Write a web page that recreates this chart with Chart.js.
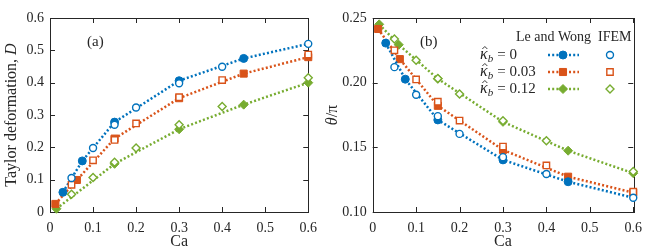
<!DOCTYPE html>
<html>
<head>
<meta charset="utf-8">
<script src="https://cdn.jsdelivr.net/npm/chart.js@4.4.1/dist/chart.umd.min.js"></script>
<style>
  body { margin: 0; background: #fff; }
  .panel { position: absolute; top: 0; width: 325px; height: 250px; }
</style>
</head>
<body>
<div class="panel" style="left:0"><canvas id="chartA" width="325" height="250"></canvas></div>
<div class="panel" style="left:325px"><canvas id="chartB" width="325" height="250"></canvas></div>
<script>
// --- data ---
// IFEM (open markers), same Ca for every bending modulus
const caIFEM = [0.05, 0.1, 0.15, 0.2, 0.3, 0.4, 0.6];
const dIFEM0 = [0.105, 0.198, 0.27, 0.323, 0.398, 0.449, 0.52];
const dIFEM03 = [0.084, 0.16, 0.223, 0.274, 0.355, 0.408, 0.487];
const dIFEM12 = [0.055, 0.107, 0.154, 0.198, 0.27, 0.326, 0.415];
const thIFEM0 = [0.212, 0.1906, 0.1741, 0.1604, 0.1424, 0.1294, 0.111];
const thIFEM03 = [0.225, 0.2025, 0.1853, 0.1707, 0.1506, 0.136, 0.1157];
const thIFEM12 = [0.2337, 0.2173, 0.2033, 0.1913, 0.1705, 0.1551, 0.1313];

// Le and Wong (filled markers + dotted line)
const caLW0 = [0.03, 0.075, 0.15, 0.3, 0.45, 0.6];
const dLW0 = [0.061, 0.158, 0.278, 0.406, 0.475, 0.52];
const thLW0 = [0.2306, 0.2027, 0.1712, 0.1403, 0.1234, 0.111];
const caLW03 = [0.0125, 0.0625, 0.15, 0.3, 0.45, 0.6];
const dLW03 = [0.025, 0.099, 0.227, 0.352, 0.428, 0.479];
const thLW03 = [0.2415, 0.2182, 0.1821, 0.148, 0.1273, 0.115];
const caLWa12 = [0.015, 0.15, 0.3, 0.45, 0.6];
const dLW12 = [0.01, 0.149, 0.256, 0.332, 0.4];
const caLWb12 = [0.015, 0.06, 0.15, 0.3, 0.45, 0.6];
const thLW12 = [0.2451, 0.2293, 0.203, 0.1697, 0.1474, 0.13];

const kappaLabels = ['0', '0.03', '0.12'];

const BLUE = '#0072BD', ORANGE = '#D95319', GREEN = '#77AC30', AXIS = '#262626';
const FONT = '"Liberation Serif", "DejaVu Serif", Tinos, "Times New Roman", serif';
const colors = [BLUE, ORANGE, GREEN];
const styles = ['circle', 'rect', 'rectRot'];
const radii = [4, 5, 4.5];

const pts = (xs, ys) => xs.map((x, i) => ({x: x, y: ys[i]}));

function lwSet(xs, ys, k, hideLast) {
  const r = xs.map((_, i) => (hideLast && i === xs.length - 1) ? 0 : radii[k]);
  return {
    data: pts(xs, ys), showLine: true, order: 1, clip: false,
    borderColor: colors[k], backgroundColor: colors[k],
    borderWidth: 2.5, borderDash: [2, 2.2], borderCapStyle: 'butt', tension: 0,
    pointStyle: styles[k], pointRadius: r, pointBorderWidth: 1,
    pointBackgroundColor: colors[k], pointBorderColor: colors[k]
  };
}
function ifemSet(xs, ys, k) {
  return {
    data: pts(xs, ys), showLine: false, order: 0, clip: false,
    borderColor: colors[k], backgroundColor: '#fff',
    pointStyle: styles[k], pointRadius: radii[k] - 0.5, pointBorderWidth: 1.4,
    pointBackgroundColor: '#fff', pointBorderColor: colors[k]
  };
}

// box with inward ticks, axis titles and panel tag
function frame(tag, yTitle) {
  return {
    id: 'frame',
    beforeDatasetsDraw(chart) {
      const {ctx, chartArea: a, scales: {x, y}} = chart;
      ctx.save();
      ctx.strokeStyle = AXIS;
      ctx.lineWidth = 1;
      ctx.strokeRect(Math.round(a.left) + 0.5, Math.round(a.top) + 0.5,
        Math.round(a.width), Math.round(a.height));
      ctx.beginPath();
      x.ticks.forEach(t => {
        const px = Math.round(x.getPixelForValue(t.value)) + 0.5;
        ctx.moveTo(px, a.bottom); ctx.lineTo(px, a.bottom - 5);
        ctx.moveTo(px, a.top); ctx.lineTo(px, a.top + 5);
      });
      y.ticks.forEach(t => {
        const py = Math.round(y.getPixelForValue(t.value)) + 0.5;
        ctx.moveTo(a.left, py); ctx.lineTo(a.left + 5, py);
        ctx.moveTo(a.right, py); ctx.lineTo(a.right - 5, py);
      });
      ctx.stroke();
      ctx.restore();
    },
    afterDraw(chart) {
      const {ctx, chartArea: a} = chart;
      ctx.save();
      ctx.fillStyle = AXIS;
      ctx.textBaseline = 'middle';
      ctx.font = '15px ' + FONT;
      ctx.textAlign = 'left';
      ctx.fillText(tag.text, tag.x, 42);
      // x title
      ctx.font = '16px ' + FONT;
      ctx.textAlign = 'center';
      ctx.fillText('Ca', (a.left + a.right) / 2, 242);
      // y title, mixed upright/italic pieces
      ctx.translate(yTitle.x, (a.top + a.bottom) / 2);
      ctx.rotate(-Math.PI / 2);
      let total = 0;
      yTitle.parts.forEach(p => { ctx.font = p[1] + '16px ' + FONT; total += ctx.measureText(p[0]).width; });
      let cx = -total / 2;
      ctx.textAlign = 'left';
      yTitle.parts.forEach(p => {
        ctx.font = p[1] + '16px ' + FONT;
        ctx.fillText(p[0], cx, 0);
        cx += ctx.measureText(p[0]).width;
      });
      ctx.restore();
    }
  };
}

const legendPlugin = {
  id: 'kappaLegend',
  afterDatasetsDraw(chart) {
    const ctx = chart.ctx;
    ctx.save();
    ctx.fillStyle = AXIS;
    ctx.textBaseline = 'middle';
    ctx.font = '14px ' + FONT;
    ctx.textAlign = 'right';
    ctx.fillText('Le and Wong', 266, 37);
    ctx.textAlign = 'left';
    ctx.fillText('IFEM', 273, 37);
    const rows = [55, 72, 89];
    kappaLabels.forEach((lab, k) => {
      const y = rows[k];
      const x0 = 155;
      ctx.fillStyle = AXIS;
      ctx.strokeStyle = AXIS;
      ctx.font = 'italic 16px ' + FONT;
      ctx.fillText('κ', x0, y);
      const kw = ctx.measureText('κ').width;
      // circumflex over kappa
      const hx = x0 + kw / 2 + 1;
      ctx.lineWidth = 0.9;
      ctx.beginPath();
      ctx.moveTo(hx - 2.5, y - 6); ctx.lineTo(hx, y - 8.5); ctx.lineTo(hx + 2.5, y - 6);
      ctx.stroke();
      ctx.font = 'italic 11px ' + FONT;
      ctx.fillText('b', x0 + kw, y + 4);
      const bw = ctx.measureText('b').width;
      ctx.font = '15px ' + FONT;
      ctx.fillText('= ' + lab, x0 + kw + bw + 4, y);
      // line sample
      ctx.strokeStyle = colors[k];
      ctx.lineWidth = 2.5;
      ctx.setLineDash([2, 2.2]);
      ctx.beginPath();
      ctx.moveTo(223, y); ctx.lineTo(254, y);
      ctx.stroke();
      ctx.setLineDash([]);
      ctx.fillStyle = colors[k];
      ctx.lineWidth = 1;
      Chart.helpers.drawPoint(ctx, {pointStyle: styles[k], radius: radii[k], rotation: 0, borderWidth: 1}, 238, y);
      ctx.fillStyle = '#fff';
      ctx.lineWidth = 1.4;
      Chart.helpers.drawPoint(ctx, {pointStyle: styles[k], radius: radii[k] - 0.5, rotation: 0, borderWidth: 1.4}, 285, y);
    });
    ctx.restore();
  }
};

function makeChart(id, datasets, yMin, yMax, yStep, yWidth, padRight, plugins) {
  return new Chart(document.getElementById(id), {
    type: 'scatter',
    data: {datasets: datasets},
    options: {
      responsive: false,
      animation: false,
      layout: {padding: {top: 18, right: padRight, left: 0, bottom: 0}},
      plugins: {legend: {display: false}, tooltip: {enabled: false}},
      scales: {
        x: {
          type: 'linear', min: 0, max: 0.6,
          grid: {display: false, drawTicks: false}, border: {display: false},
          ticks: {stepSize: 0.1, padding: 8, color: AXIS, font: {family: FONT, size: 14}},
          afterFit: s => { s.height = 38; }
        },
        y: {
          type: 'linear', min: yMin, max: yMax,
          grid: {display: false, drawTicks: false}, border: {display: false},
          ticks: {stepSize: yStep, padding: 6, color: AXIS, font: {family: FONT, size: 14}},
          afterFit: s => { s.width = yWidth; }
        }
      }
    },
    plugins: plugins
  });
}

makeChart('chartA', [
  lwSet(caLW0, dLW0, 0, true),
  lwSet(caLW03, dLW03, 1, false),
  lwSet(caLWa12, dLW12, 2, false),
  ifemSet(caIFEM, dIFEM0, 0),
  ifemSet(caIFEM, dIFEM03, 1),
  ifemSet(caIFEM, dIFEM12, 2)
], 0, 0.6, 0.1, 50, 14, [frame({text: '(a)', x: 87}, {x: 12, parts: [['Taylor deformation, ', ''], ['D', 'italic ']]})]);

makeChart('chartB', [
  lwSet(caLW0, thLW0, 0, true),
  lwSet(caLW03, thLW03, 1, false),
  lwSet(caLWb12, thLW12, 2, false),
  ifemSet(caIFEM, thIFEM0, 0),
  ifemSet(caIFEM, thIFEM03, 1),
  ifemSet(caIFEM, thIFEM12, 2)
], 0.1, 0.25, 0.05, 47.7, 16, [frame({text: '(b)', x: 95}, {x: 8, parts: [['θ', 'italic '], ['/π', '']]}), legendPlugin]);
</script>
</body>
</html>
